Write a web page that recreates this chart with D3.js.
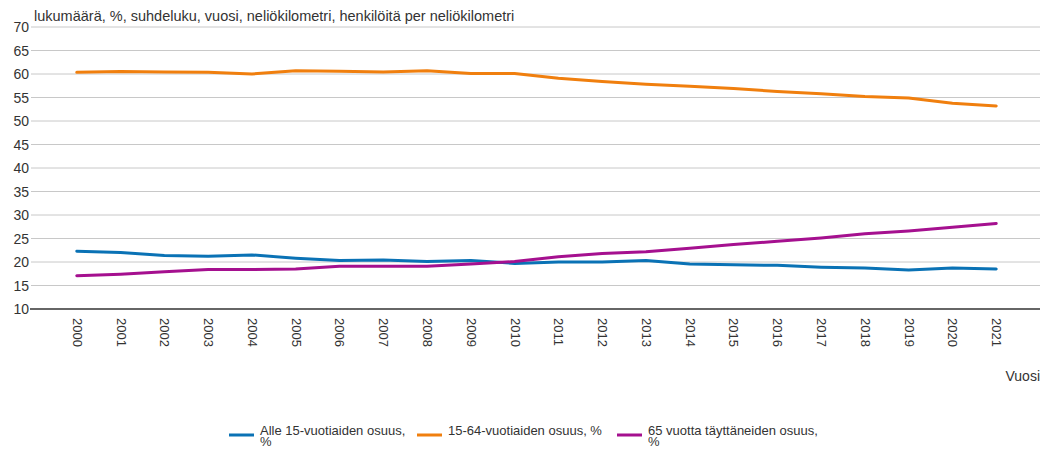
<!DOCTYPE html>
<html>
<head>
<meta charset="utf-8">
<script src="https://cdn.jsdelivr.net/npm/d3@7"></script>
<style>
  body { margin: 0; background: #fff; }
  svg { font-family: Arial, "Liberation Sans", sans-serif; }
</style>
</head>
<body>
<div id="chart"></div>
<script>
const years = ['2000','2001','2002','2003','2004','2005','2006','2007','2008','2009','2010',
  '2011','2012','2013','2014','2015','2016','2017','2018','2019','2020','2021'];

const under15 = [22.3, 22.0, 21.4, 21.2, 21.5, 20.8, 20.3, 20.4, 20.1, 20.3, 19.7,
  20.0, 20.0, 20.3, 19.6, 19.4, 19.3, 18.9, 18.7, 18.3, 18.7, 18.5];
const age15to64 = [60.35, 60.55, 60.4, 60.35, 60.0, 60.7, 60.6, 60.4, 60.7, 60.1, 60.1,
  59.1, 58.4, 57.8, 57.4, 56.9, 56.3, 55.8, 55.2, 54.9, 53.8, 53.2];
const over65 = [17.1, 17.4, 17.9, 18.4, 18.4, 18.5, 19.1, 19.1, 19.1, 19.6, 20.1,
  21.1, 21.8, 22.2, 22.9, 23.7, 24.4, 25.1, 26.0, 26.6, 27.4, 28.2];

const yTicks = [10, 15, 20, 25, 30, 35, 40, 45, 50, 55, 60, 65, 70];

const series = [
  { name: ['Alle 15-vuotiaiden osuus,', '%'], values: under15, color: '#0a72b5' },
  { name: ['15-64-vuotiaiden osuus, %'], values: age15to64, color: '#f07f0e' },
  { name: ['65 vuotta täyttäneiden osuus,', '%'], values: over65, color: '#a5108f' }
];

const width = 1040, height = 450;
const plotLeft = 33, plotRight = 1040, plotTop = 27, plotBottom = 309;

const svg = d3.select('#chart').append('svg')
  .attr('width', width)
  .attr('height', height);

const x = d3.scalePoint().domain(years).range([plotLeft, plotRight]).padding(1);
const y = d3.scaleLinear().domain([10, 70]).range([plotBottom, plotTop]);

// gridlines
svg.append('g')
  .selectAll('line')
  .data(yTicks.filter(d => d !== 10))
  .enter()
  .append('line')
  .attr('x1', plotLeft - 2)
  .attr('x2', plotRight)
  .attr('y1', d => y(d))
  .attr('y2', d => y(d))
  .style('stroke', '#c8c8c8')
  .style('stroke-width', 1);

// y labels
const yAxis = d3.axisLeft(y).tickValues(yTicks).tickSize(0).tickPadding(3);
const gy = svg.append('g')
  .attr('transform', `translate(${plotLeft - 1},0)`)
  .call(yAxis);
gy.select('.domain').remove();
gy.selectAll('text')
  .style('font-size', '14px')
  .style('fill', '#333')
  .attr('dy', '0.35em');

// x axis
const xAxis = d3.axisBottom(x).tickSize(0);
const gx = svg.append('g')
  .attr('transform', `translate(0,${plotBottom})`)
  .call(xAxis);
gx.select('.domain')
  .attr('d', `M${plotLeft - 3},0H${plotRight}`)
  .style('stroke', '#333')
  .style('stroke-width', 1.5);
gx.selectAll('text')
  .style('font-size', '13px')
  .style('fill', '#333')
  .attr('text-anchor', 'start')
  .attr('transform', 'rotate(90)')
  .attr('x', 9)
  .attr('y', 0)
  .attr('dy', '0.35em');

// lines
const line = d3.line()
  .x((d, i) => x(years[i]))
  .y(d => y(d));

svg.append('g')
  .selectAll('path')
  .data(series)
  .enter()
  .append('path')
  .attr('d', d => line(d.values))
  .style('fill', 'none')
  .style('stroke', d => d.color)
  .style('stroke-width', 3)
  .style('stroke-linejoin', 'round')
  .style('stroke-linecap', 'round');

// titles
svg.append('text')
  .attr('x', 34)
  .attr('y', 21)
  .style('font-size', '14.5px')
  .style('fill', '#333')
  .text('lukumäärä, %, suhdeluku, vuosi, neliökilometri, henkilöitä per neliökilometri');

svg.append('text')
  .attr('x', 1040)
  .attr('y', 381)
  .attr('text-anchor', 'end')
  .style('font-size', '14px')
  .style('fill', '#333')
  .text('Vuosi');

// legend
const legendX = [229, 417, 617];
const legend = svg.append('g')
  .selectAll('g')
  .data(series)
  .enter()
  .append('g')
  .attr('transform', (d, i) => `translate(${legendX[i]},435)`);

legend.append('line')
  .attr('x1', 0)
  .attr('x2', 25)
  .style('stroke', d => d.color)
  .style('stroke-width', 3);

legend.append('text')
  .attr('y', 0)
  .style('font-size', '13px')
  .style('fill', '#333')
  .selectAll('tspan')
  .data(d => d.name)
  .enter()
  .append('tspan')
  .attr('x', 31)
  .attr('dy', (d, i) => i === 0 ? 0 : 11)
  .text(d => d);
</script>
</body>
</html>
